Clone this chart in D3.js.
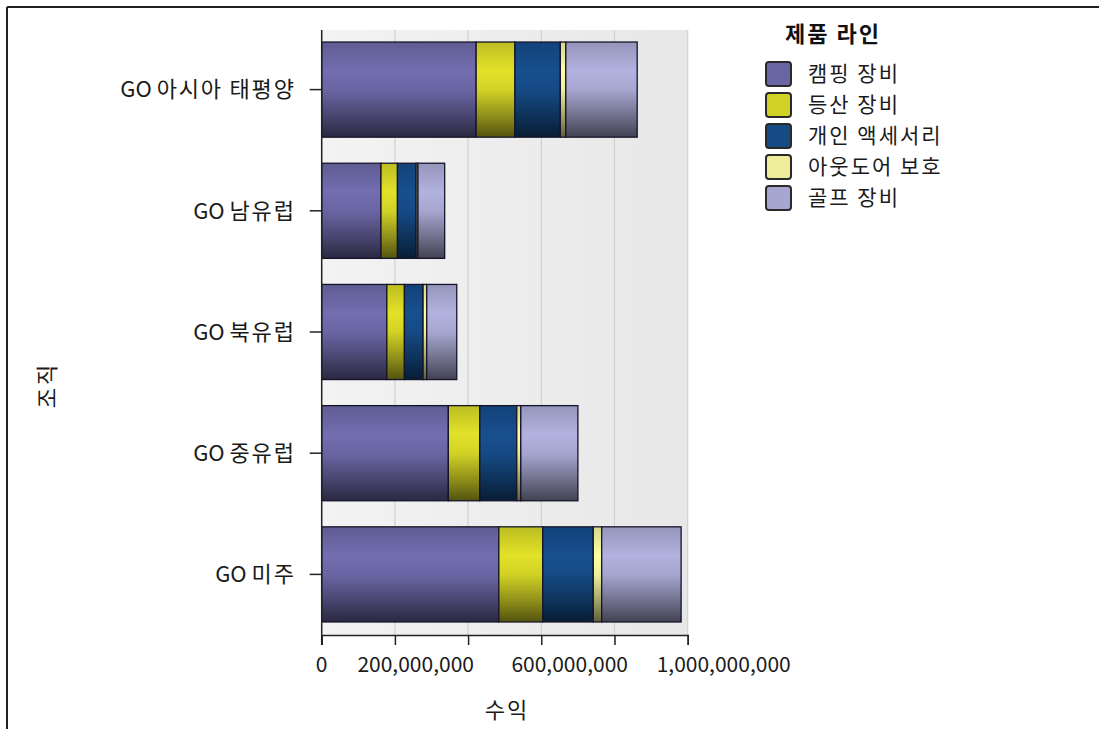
<!DOCTYPE html>
<html>
<head>
<meta charset="utf-8">
<script src="https://cdn.jsdelivr.net/npm/d3@7"></script>
<style>
  html, body { margin: 0; padding: 0; background: #fff; }
  svg { display: block; }
  text { font-family: "Noto Sans CJK KR", "Noto Sans", sans-serif; }
</style>
</head>
<body>
<div id="chart"></div>
<script>
const W = 1099, H = 729;

// data (values in millions)
const regions = ['GO 아시아 태평양', 'GO 남유럽', 'GO 북유럽', 'GO 중유럽', 'GO 미주'];
const products = ['캠핑 장비', '등산 장비', '개인 액세서리', '아웃도어 보호', '골프 장비'];
const camping       = [422, 162, 178, 346, 484];
const mountaineering = [106, 45, 48, 86, 120];
const personal      = [124, 51, 51, 101, 138];
const outdoor       = [15, 5, 10, 11, 23];
const golf          = [195, 73, 82, 156, 217];
const xTicks = [0, 200, 400, 600, 800, 1000];
const xTickLabels = [0, 200, 600, 1000];

const colors = ['#6a66a4', '#d2d226', '#154a85', '#eeee9a', '#a6a6d0'];

const rows = regions.map((r, i) => ({
  region: r,
  [products[0]]: camping[i],
  [products[1]]: mountaineering[i],
  [products[2]]: personal[i],
  [products[3]]: outdoor[i],
  [products[4]]: golf[i]
}));

const x = d3.scaleLinear().domain([0, 1000]).range([321.7, 687.7]);
const y = d3.scaleBand().domain(regions).range([29, 635])
  .paddingInner(0.215).paddingOuter(0.1075);

const svg = d3.select('#chart').append('svg')
  .attr('width', W).attr('height', H);

const defs = svg.append('defs');

// bar shading - cylinder-ish vertical gradient
colors.forEach((c, i) => {
  const base = d3.color(c);
  const g = defs.append('linearGradient')
    .attr('id', 'grad' + i)
    .attr('x1', 0).attr('y1', 0).attr('x2', 0).attr('y2', 1);
  [[0, base.darker(0.3)], [0.3, base.brighter(0.2)], [0.5, base],
   [0.78, base.darker(1.1)], [1, base.darker(2.6)]].forEach(([o, col]) => {
    g.append('stop').attr('offset', o).attr('stop-color', col.formatHex());
  });
});

const bgGrad = defs.append('linearGradient')
  .attr('id', 'bg').attr('x1', 0).attr('y1', 0).attr('x2', 1).attr('y2', 0);
bgGrad.append('stop').attr('offset', 0).attr('stop-color', '#f3f3f3');
bgGrad.append('stop').attr('offset', 1).attr('stop-color', '#e7e7e7');

// frame (top + left only visible)
svg.append('line').attr('x1', 7).attr('y1', 7).attr('x2', W).attr('y2', 7)
  .attr('stroke', '#222').attr('stroke-width', 2);
svg.append('line').attr('x1', 7).attr('y1', 7).attr('x2', 7).attr('y2', H)
  .attr('stroke', '#222').attr('stroke-width', 2);

// plot background
svg.append('rect')
  .attr('x', x(0)).attr('y', 30)
  .attr('width', x(1000) - x(0)).attr('height', 635 - 30)
  .attr('fill', 'url(#bg)');

// grid lines
svg.append('g').selectAll('line')
  .data(xTicks.slice(1))
  .join('line')
  .attr('x1', d => x(d)).attr('x2', d => x(d))
  .attr('y1', 30).attr('y2', 635)
  .attr('stroke', '#d0d0d0').attr('stroke-width', 1.2);

// stacked bars
const stack = d3.stack().keys(products)(rows);

const layers = svg.append('g').selectAll('g')
  .data(stack)
  .join('g')
  .attr('fill', (d, i) => `url(#grad${i})`);

layers.selectAll('rect')
  .data(d => d)
  .join('rect')
  .attr('x', d => x(d[0]))
  .attr('y', d => y(d.data.region))
  .attr('width', d => x(d[1]) - x(d[0]))
  .attr('height', y.bandwidth())
  .attr('stroke', '#15152a')
  .attr('stroke-width', 1.3);

// y axis
const yAxis = svg.append('g')
  .attr('transform', `translate(${x(0)},0)`)
  .call(d3.axisLeft(y).tickSize(12).tickPadding(14));
yAxis.select('.domain').attr('d', `M0,30V645`).attr('stroke', '#222').attr('stroke-width', 1.5);
yAxis.selectAll('.tick line').attr('stroke', '#222').attr('stroke-width', 1.5);
yAxis.selectAll('.tick text')
  .attr('font-size', 22).attr('fill', '#1a1a1a')
  .attr('font-family', '"Noto Sans CJK KR", sans-serif')
  .attr('dy', '0.35em')
  .each(function (d) {
    const t = d3.select(this).text('');
    const [head, ...rest] = d.split(' ');
    t.append('tspan').text(head + ' ');
    t.append('tspan').attr('letter-spacing', 1.8).text(rest.join(' '));
  });

// x axis
const xAxis = svg.append('g')
  .attr('transform', 'translate(0,635)')
  .call(d3.axisBottom(x).tickValues(xTicks).tickSize(10).tickFormat(''));
xAxis.select('.domain').attr('stroke', '#222').attr('stroke-width', 1.5);
xAxis.selectAll('.tick line').attr('stroke', '#222').attr('stroke-width', 1.5);

const fmt = d3.format(',');
svg.append('g').selectAll('text')
  .data(xTickLabels)
  .join('text')
  .attr('x', d => x(d) + (d === 0 ? 0 : 17 + d / 1000 * 19))
  .attr('y', 672)
  .attr('text-anchor', 'middle')
  .attr('font-size', 21)
  .attr('fill', '#1a1a1a')
  .text(d => fmt(d * 1e6));

// axis titles
svg.append('text')
  .attr('x', 507).attr('y', 718)
  .attr('text-anchor', 'middle')
  .attr('font-size', 22).attr('letter-spacing', 2).attr('fill', '#1a1a1a')
  .text('수익');

svg.append('text')
  .attr('transform', 'translate(55,385) rotate(-90)')
  .attr('text-anchor', 'middle')
  .attr('font-size', 22).attr('letter-spacing', 3).attr('fill', '#1a1a1a')
  .text('조직');

// legend
const legend = svg.append('g').attr('transform', 'translate(766,0)');
legend.append('text')
  .attr('x', 19).attr('y', 42)
  .attr('font-size', 22).attr('font-weight', 'bold').attr('letter-spacing', 2)
  .attr('fill', '#111')
  .text('제품 라인');

const items = legend.selectAll('g.item')
  .data(products)
  .join('g')
  .attr('class', 'item')
  .attr('transform', (d, i) => `translate(0,${74 + i * 31})`);

items.append('rect')
  .attr('x', 0).attr('y', -12)
  .attr('width', 25).attr('height', 24)
  .attr('rx', 3)
  .attr('fill', (d, i) => colors[i])
  .attr('stroke', '#2a2a2a').attr('stroke-width', 2);

items.append('text')
  .attr('x', 42).attr('y', 0)
  .attr('dy', '0.35em')
  .attr('font-size', 21).attr('letter-spacing', 2).attr('fill', '#1a1a1a')
  .text(d => d);
</script>
</body>
</html>
